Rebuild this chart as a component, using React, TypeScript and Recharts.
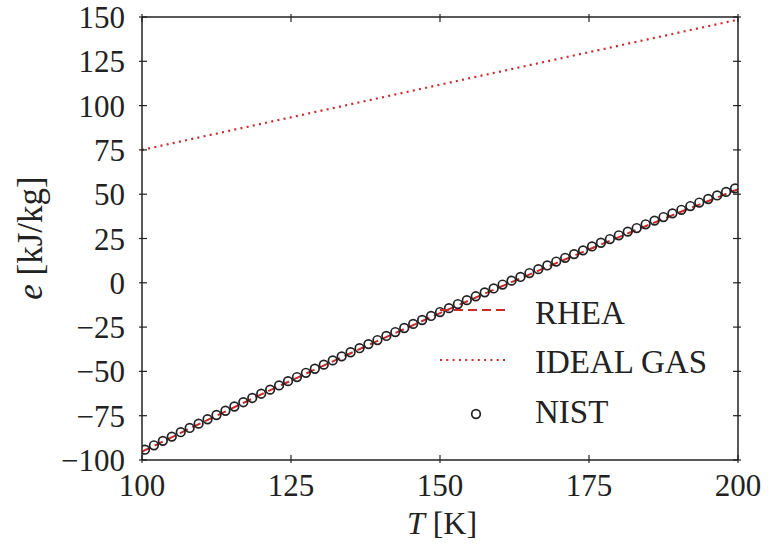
import {
  ComposedChart,
  Line,
  Scatter,
  XAxis,
  YAxis,
  Legend,
  Label,
} from "recharts";

// NIST reference points
const nistT = [
  100.5, 102, 103.5, 105, 106.5, 108, 109.5, 111, 112.5, 114, 115.5, 117, 118.5,
  120, 121.5, 123, 124.5, 126, 127.5, 129, 130.5, 132, 133.5, 135, 136.5, 138,
  139.5, 141, 142.5, 144, 145.5, 147, 148.5, 150, 151.5, 153, 154.5, 156, 157.5,
  159, 160.5, 162, 163.5, 165, 166.5, 168, 169.5, 171, 172.5, 174, 175.5, 177,
  178.5, 180, 181.5, 183, 184.5, 186, 187.5, 189, 190.5, 192, 193.5, 195, 196.5,
  198, 199.5,
];
const nistE = [
  -94.2, -91.7, -89.2, -86.8, -84.3, -81.9, -79.5, -77.0, -74.6, -72.2,
  -69.8, -67.4, -65.0, -62.6, -60.3, -57.9, -55.5, -53.2, -50.8, -48.5,
  -46.2, -43.8, -41.5, -39.2, -36.9, -34.6, -32.3, -30.0, -27.8, -25.5,
  -23.2, -21.0, -18.7, -16.5, -14.3, -12.0, -9.8, -7.6, -5.4, -3.2,
  -1.0, 1.2, 3.3, 5.5, 7.7, 9.8, 12.0, 14.1, 16.2, 18.3,
  20.5, 22.6, 24.7, 26.8, 28.9, 30.9, 33.0, 35.1, 37.1, 39.2,
  41.2, 43.3, 45.3, 47.3, 49.3, 51.3, 53.3,
];

// RHEA solution
const rheaT = [100, 110, 120, 130, 140, 150, 160, 170, 180, 190, 200];
const rheaE = [-95.3, -79.0, -63.0, -47.4, -32.1, -17.1, -2.5, 11.8, 25.8, 39.5, 52.8];

// ideal gas
const idealT = [100, 150, 200];
const idealE = [75, 111.8, 148.5];

const xTicks = [100, 125, 150, 175, 200];
const yTicks = [-100, -75, -50, -25, 0, 25, 50, 75, 100, 125, 150];

const nistData = nistT.map((T, i) => ({ T, e: nistE[i] }));
const rheaData = rheaT.map((T, i) => ({ T, e: rheaE[i] }));
const idealData = idealT.map((T, i) => ({ T, e: idealE[i] }));

const FONT = "'Liberation Serif', 'Times New Roman', serif";
const INK = "#222";
const RED = "#cc2a2a";

const fmt = (v: number) => (v < 0 ? "\u2212" + Math.abs(v) : String(v));

const XTick = (props: any) => {
  const { x, y, payload, side } = props;
  if (side === "top") {
    return <line x1={x} x2={x} y1={y - 3} y2={y + 5} stroke={INK} strokeWidth={1.2} />;
  }
  const ay = y - 14;
  return (
    <g>
      <line x1={x} x2={x} y1={ay - 5} y2={ay + 3} stroke={INK} strokeWidth={1.2} />
      <text x={x} y={y} dy="0.71em" textAnchor="middle" fontFamily={FONT} fontSize={31} fill={INK}>
        {payload.value}
      </text>
    </g>
  );
};

const YTick = (props: any) => {
  const { x, y, payload, side } = props;
  if (side === "right") {
    return <line x1={x - 5} x2={x + 3} y1={y} y2={y} stroke={INK} strokeWidth={1.2} />;
  }
  const ax = x + 17;
  return (
    <g>
      <line x1={ax - 3} x2={ax + 5} y1={y} y2={y} stroke={INK} strokeWidth={1.2} />
      <text x={x} y={y} dy="0.355em" textAnchor="end" fontFamily={FONT} fontSize={31} fill={INK}>
        {fmt(payload.value)}
      </text>
    </g>
  );
};

const NistDot = (props: any) => (
  <circle cx={props.cx} cy={props.cy} r={4.3} fill="none" stroke={INK} strokeWidth={1.7} />
);

const LegendBox = () => (
  <svg width={320} height={150} style={{ display: "block" }}>
    <line x1={10} x2={75} y1={25} y2={25} stroke={RED} strokeWidth={2} strokeDasharray="9 5" />
    <text x={105} y={39} fontFamily={FONT} fontSize={33} fill={INK}>RHEA</text>
    <line x1={10} x2={75} y1={75} y2={75} stroke={RED} strokeWidth={2.2} strokeDasharray="2 4.3" />
    <text x={105} y={88} fontFamily={FONT} fontSize={33} fill={INK}>IDEAL GAS</text>
    <circle cx={46} cy={129} r={4.3} fill="none" stroke={INK} strokeWidth={1.7} />
    <text x={105} y={138} fontFamily={FONT} fontSize={33} fill={INK}>NIST</text>
  </svg>
);

export default function App() {
  const axisLine = { stroke: INK, strokeWidth: 1.5 };
  return (
    <div style={{ position: "absolute", left: 0, top: 0, width: 778, height: 549, background: "#fff" }}>
      <ComposedChart width={778} height={549} margin={{ top: 0, right: 0, bottom: 0, left: 0 }}>
        <XAxis
          xAxisId="b"
          type="number"
          dataKey="T"
          domain={[100, 200]}
          ticks={xTicks}
          height={89}
          axisLine={axisLine}
          tickLine={false}
          tickSize={0}
          tickMargin={14}
          tick={<XTick side="bottom" />}
          allowDataOverflow
        >
          <Label
            content={() => (
              <text x={442} y={534} textAnchor="middle" fontFamily={FONT} fontSize={32} fill={INK}>
                <tspan fontStyle="italic">T</tspan> [K]
              </text>
            )}
          />
        </XAxis>
        <XAxis
          xAxisId="t"
          orientation="top"
          type="number"
          dataKey="T"
          domain={[100, 200]}
          ticks={xTicks}
          height={17}
          axisLine={axisLine}
          tickLine={false}
          tickSize={0}
          tickMargin={0}
          tick={<XTick side="top" />}
          allowDataOverflow
        />
        <YAxis
          yAxisId="l"
          type="number"
          dataKey="e"
          domain={[-100, 150]}
          ticks={yTicks}
          width={142}
          axisLine={axisLine}
          tickLine={false}
          tickSize={0}
          tickMargin={17}
          tick={<YTick side="left" />}
          allowDataOverflow
        >
          <Label
            content={() => (
              <text
                x={42}
                y={238}
                textAnchor="middle"
                transform="rotate(-90, 42, 238)"
                fontFamily={FONT}
                fontSize={35}
                fill={INK}
              >
                <tspan fontStyle="italic">e</tspan> [kJ/kg]
              </text>
            )}
          />
        </YAxis>
        <YAxis
          yAxisId="r"
          orientation="right"
          type="number"
          dataKey="e"
          domain={[-100, 150]}
          ticks={yTicks}
          width={40}
          axisLine={axisLine}
          tickLine={false}
          tickSize={0}
          tickMargin={0}
          tick={<YTick side="right" />}
          allowDataOverflow
        />
        <Line
          xAxisId="b"
          yAxisId="l"
          data={idealData}
          dataKey="e"
          type="linear"
          stroke={RED}
          strokeWidth={2.2}
          strokeDasharray="2 4.3"
          dot={false}
          isAnimationActive={false}
        />
        <Line
          xAxisId="b"
          yAxisId="l"
          data={rheaData}
          dataKey="e"
          type="linear"
          stroke={RED}
          strokeWidth={2}
          strokeDasharray="9 5"
          dot={false}
          isAnimationActive={false}
        />
        <Scatter
          xAxisId="b"
          yAxisId="l"
          data={nistData}
          dataKey="e"
          shape={<NistDot />}
          isAnimationActive={false}
        />
        <Legend
          layout="vertical"
          align="center"
          verticalAlign="middle"
          content={() => <LegendBox />}
          wrapperStyle={{ left: 430, top: 285, width: 320, height: 150 }}
        />
      </ComposedChart>
    </div>
  );
}
